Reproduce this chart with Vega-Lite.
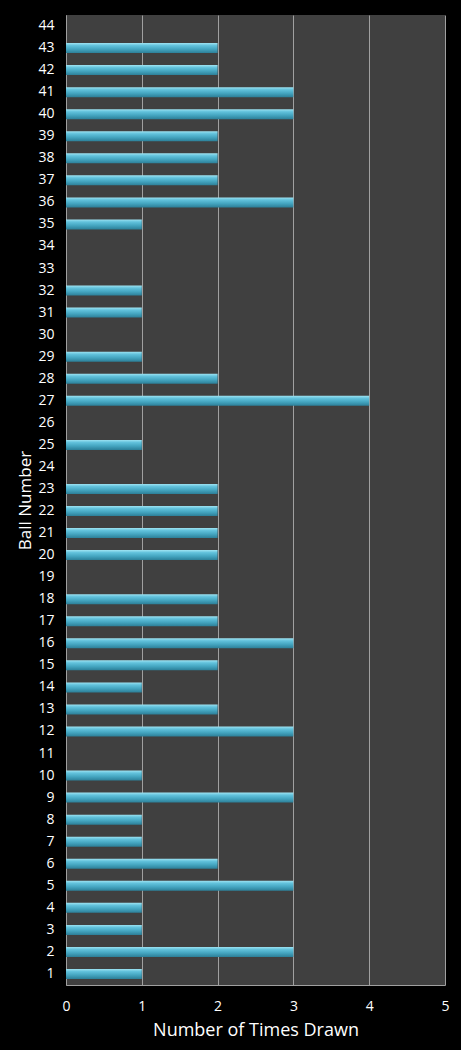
{
  "$schema": "https://vega.github.io/schema/vega-lite/v6.json",
  "autosize": "none",
  "width": 379,
  "height": 970,
  "padding": {"left": 66, "top": 15, "right": 16, "bottom": 65},
  "background": "#000000",
  "config": {
    "view": {"fill": "#404040", "stroke": null},
    "font": "Open Sans"
  },
  "data": {
    "values": [
      {"ball": 1, "count": 1}, {"ball": 2, "count": 3}, {"ball": 3, "count": 1}, {"ball": 4, "count": 1},
      {"ball": 5, "count": 3}, {"ball": 6, "count": 2}, {"ball": 7, "count": 1}, {"ball": 8, "count": 1},
      {"ball": 9, "count": 3}, {"ball": 10, "count": 1}, {"ball": 11, "count": 0}, {"ball": 12, "count": 3},
      {"ball": 13, "count": 2}, {"ball": 14, "count": 1}, {"ball": 15, "count": 2}, {"ball": 16, "count": 3},
      {"ball": 17, "count": 2}, {"ball": 18, "count": 2}, {"ball": 19, "count": 0}, {"ball": 20, "count": 2},
      {"ball": 21, "count": 2}, {"ball": 22, "count": 2}, {"ball": 23, "count": 2}, {"ball": 24, "count": 0},
      {"ball": 25, "count": 1}, {"ball": 26, "count": 0}, {"ball": 27, "count": 4}, {"ball": 28, "count": 2},
      {"ball": 29, "count": 1}, {"ball": 30, "count": 0}, {"ball": 31, "count": 1}, {"ball": 32, "count": 1},
      {"ball": 33, "count": 0}, {"ball": 34, "count": 0}, {"ball": 35, "count": 1}, {"ball": 36, "count": 3},
      {"ball": 37, "count": 2}, {"ball": 38, "count": 2}, {"ball": 39, "count": 2}, {"ball": 40, "count": 3},
      {"ball": 41, "count": 3}, {"ball": 42, "count": 2}, {"ball": 43, "count": 2}, {"ball": 44, "count": 0}
    ]
  },
  "mark": {
    "type": "bar",
    "size": 10,
    "color": {
      "gradient": "linear",
      "x1": 0, "y1": 0, "x2": 0, "y2": 1,
      "stops": [
        {"offset": 0, "color": "#9ee3f2"},
        {"offset": 0.25, "color": "#62c2dc"},
        {"offset": 0.6, "color": "#45a6c1"},
        {"offset": 1, "color": "#2c7f98"}
      ]
    }
  },
  "encoding": {
    "y": {
      "field": "ball",
      "type": "ordinal",
      "sort": "descending",
      "scale": {"paddingOuter": 0, "paddingInner": 0},
      "axis": {
        "title": "Ball Number",
        "titleColor": "#ffffff",
        "titleFontSize": 17,
        "titleFontWeight": "normal",
        "titlePadding": 3,
        "labelColor": "#ffffff",
        "labelFontSize": 14,
        "labelPadding": 12,
        "ticks": false,
        "domain": true,
        "domainColor": "#a0a0a0",
        "grid": false
      }
    },
    "x": {
      "field": "count",
      "type": "quantitative",
      "scale": {"domain": [0, 5], "nice": false},
      "axis": {
        "title": "Number of Times Drawn",
        "titleColor": "#ffffff",
        "titleFontSize": 18,
        "titleFontWeight": "normal",
        "titlePadding": 8,
        "labelColor": "#ffffff",
        "labelFontSize": 14,
        "labelPadding": 14,
        "labelFlush": false,
        "labelOverlap": false,
        "values": [0, 1, 2, 3, 4, 5],
        "ticks": false,
        "domain": true,
        "domainColor": "#a0a0a0",
        "grid": true,
        "gridColor": "#a0a0a0",
        "gridOpacity": 1
      }
    }
  }
}
